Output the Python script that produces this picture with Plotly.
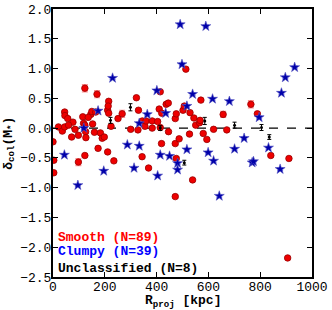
import plotly.graph_objects as go

# Smooth galaxies (red circles)
smooth_r = [0, 3, 3, 21, 36, 45, 45, 46, 57, 77, 72, 85, 98, 98, 115, 118, 123, 123, 126, 127,
            123, 146, 150, 153, 160, 165, 170, 174, 183, 190, 198, 211, 211, 215, 213, 215, 224,
            235, 251, 267, 322, 330, 328, 345, 355, 359, 344, 369, 383, 383, 404, 410, 414, 414,
            420, 419, 437, 445, 446, 472, 476, 472, 476, 472, 487, 502, 507, 513, 527, 529, 539,
            544, 551, 566, 568, 571, 580, 594, 657, 671, 764, 789, 841, 906, 911, 136, 60, 300, 620]
smooth_d = [-0.23, -0.54, -0.75, 0.02, -0.05, 0.02, 0.27, 0.21, 0.16, 0.10, -0.15, -0.02, -0.12,
            -0.57, 0.19, 0.08, 0.67, 0.05, -0.06, -0.16, -0.46, 0.23, 0.28, 0.07, -0.07, 0.27,
            0.57, -0.34, -0.08, -0.17, -0.15, -0.40, 0.30, 0.45, 0.37, 0.25, 0.03, -0.55, 0.16,
            0.24, 0.51, 0.30, -0.03, 0.12, 0.03, 0.12, -0.48, -0.67, 0.12, 0.00, 0.11, 0.32, 0.61,
            0.01, 0.25, -0.26, 0.40, 0.42, -0.06, 0.16, 0.24, -0.26, -0.51, -1.15, -0.18, 0.30,
            0.37, 0.99, -0.10, 0.26, -0.87, 0.17, 0.05, 0.09, 0.13, 0.47, -0.09, -0.19, 0.23,
            -0.03, 0.40, 0.24, -0.46, -2.18, -0.51, 0.18, 0.05, -0.02, -0.02]
smooth_err = [0.02] * len(smooth_r)
big_err = {16: 0.06, 13: 0.06, 26: 0.06, 39: 0.06, 78: 0.05, 80: 0.06}
for k, v in big_err.items():
    smooth_err[k] = v

# Clumpy galaxies (blue stars)
clumpy_r = [44, 96, 119, 174, 196, 230, 287, 313, 333, 333, 364, 401, 404, 414, 435, 450, 481,
            481, 491, 498, 517, 517, 539, 590, 599, 616, 620, 642, 681, 701, 738, 769, 774, 796,
            832, 877, 882, 897, 933]
clumpy_d = [-0.45, -0.96, 0.00, 0.29, -0.72, 0.84, -0.28, -0.67, 0.08, -0.30, 0.23, 0.63, -0.80,
            -0.45, 0.25, -0.47, -0.59, -0.70, 1.74, 1.07, 0.37, -0.36, 0.57, 1.71, -0.41, 0.49,
            -0.55, -1.14, 0.45, -0.35, -0.17, -0.58, -0.56, 0.18, -0.33, -0.69, 0.59, 0.85, 1.02]
clumpy_err = [0.02] * len(clumpy_r)

# Unclassified (black)
uncl_r = [222, 299, 414, 507, 586, 701, 805, 835]
uncl_d = [0.13, 0.35, 0.00, -0.58, 0.12, 0.05, 0.01, -0.15]
uncl_err = [0.05, 0.06, 0.04, 0.04, 0.06, 0.05, 0.05, 0.04]

legend_labels = ["Smooth (N=89)", "Clumpy (N=39)", "Unclassified (N=8)"]
legend_colors = ["#ff0000", "#0000ff", "#000000"]
legend_y = [-1.83, -2.08, -2.35]

x_ticks = [0, 200, 400, 600, 800, 1000]
y_ticks = [2.0, 1.5, 1.0, 0.5, 0.0, -0.5, -1.0, -1.5, -2.0, -2.5]

FONT = "Liberation Mono"

fig = go.Figure()

fig.add_shape(type="line", xref="x", yref="y", x0=0, x1=1000, y0=0, y1=0,
              line=dict(color="black", width=1.3, dash="dash"), layer="below")

fig.add_trace(go.Scatter(
    x=smooth_r, y=smooth_d, mode="markers",
    error_y=dict(type="data", array=smooth_err, color="#ff9090", thickness=1.2, width=3),
    marker=dict(symbol="circle", size=6.5, color="#ee0000", line=dict(color="#990000", width=0.8)),
    showlegend=False, hoverinfo="skip"))

fig.add_trace(go.Scatter(
    x=clumpy_r, y=clumpy_d, mode="markers",
    error_y=dict(type="data", array=clumpy_err, color="#9090ff", thickness=1.2, width=3),
    marker=dict(symbol="star", size=7.5, color="#0000aa", line=dict(color="#5050c0", width=0.6)),
    showlegend=False, hoverinfo="skip"))

fig.add_trace(go.Scatter(
    x=uncl_r, y=uncl_d, mode="markers",
    error_y=dict(type="data", array=uncl_err, color="#000000", thickness=1, width=2),
    marker=dict(symbol="circle", size=3, color="#000000"),
    showlegend=False, hoverinfo="skip"))

for lab, col, yy in zip(legend_labels, legend_colors, legend_y):
    fig.add_annotation(x=10, y=yy, xref="x", yref="y", text="<b>" + lab + "</b>",
                       showarrow=False, xanchor="left", yanchor="middle",
                       font=dict(family=FONT, size=13, color=col))

# axis titles as annotations for exact placement
fig.add_annotation(x=0.5, y=-0.092, xref="paper", yref="paper",
                   text="<b>R<sub>proj</sub> [kpc]</b>", showarrow=False,
                   xanchor="center", yanchor="middle",
                   font=dict(family=FONT, size=13, color="black"))
fig.add_annotation(x=-0.171, y=0.5, xref="paper", yref="paper",
                   text="<b>δ<sub>col</sub>(M<sub>*</sub>)</b>", showarrow=False,
                   textangle=-90, xanchor="center", yanchor="middle",
                   font=dict(family=FONT, size=13, color="black"))

axis_common = dict(showgrid=False, zeroline=False, showline=True, linecolor="black",
                   linewidth=2, mirror="ticks", ticks="inside", ticklen=5, tickwidth=1,
                   tickcolor="black", automargin=False,
                   tickfont=dict(family=FONT, size=13, color="black"))

fig.update_xaxes(range=[0, 1000], tickvals=x_ticks, ticktext=[str(v) for v in x_ticks],
                 ticklabelstandoff=-4, **axis_common)
fig.update_yaxes(range=[-2.5, 2.0], tickvals=y_ticks,
                 ticktext=[("−" if v < 0 else "") + "%.1f" % abs(v) for v in y_ticks],
                 ticklabelstandoff=-3, **axis_common)

fig.update_layout(width=332, height=310, margin=dict(l=53, r=20, t=9, b=33),
                  plot_bgcolor="white", paper_bgcolor="white")

fig.write_html("out.html", config={"displayModeBar": False},
               post_script="document.body.style.margin='0';")
